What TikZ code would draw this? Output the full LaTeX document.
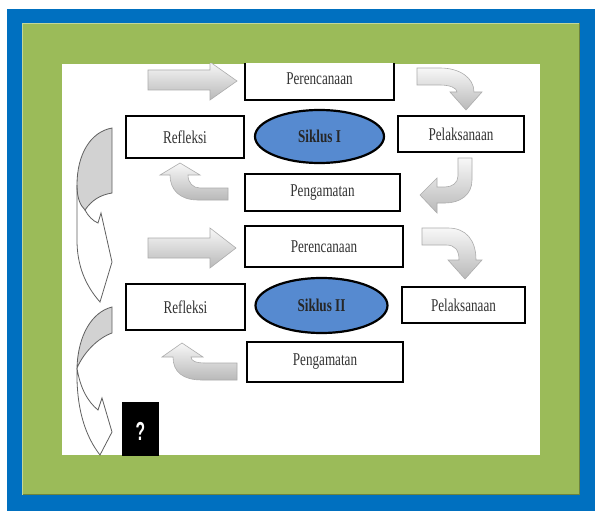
\documentclass[tikz,border=0pt]{standalone}
\usepackage{fontspec}
\newfontfamily\condserif[FakeStretch=0.73]{Liberation Serif}
\newfontfamily\qfont[FakeStretch=0.6]{Liberation Sans}
\usetikzlibrary{shapes.geometric}
\definecolor{frameblue}{RGB}{0,112,192}
\definecolor{framegreen}{RGB}{155,187,89}
\definecolor{ellblue}{RGB}{86,138,208}
\tikzset{
  stagebox/.style={draw=black, line width=2.4pt, fill=white, inner sep=0pt,
    font=\condserif\fontsize{18}{20}\selectfont, text=black!80},
  cyclebox/.style={ellipse, draw=black, line width=2.2pt, fill=ellblue, inner sep=0pt,
    font=\condserif\bfseries\fontsize{18}{20}\selectfont, text=black!85},
  grayarrow/.style={draw=gray!65, line width=0.6pt, top color=gray!6, bottom color=gray!55},
  backband/.style={draw=gray!75!black, line width=0.8pt, fill=gray!35},
  frontband/.style={draw=gray!75!black, line width=0.8pt}
}
\begin{document}
\begin{tikzpicture}[x=1pt,y=-1pt]
\useasboundingbox (0,0) rectangle (595,511);
% frame
\fill[white] (0,0) rectangle (595,511);
\fill[frameblue] (7,9) rectangle (595,511);
\fill[framegreen] (22,23) rectangle (580,495);
\draw[framegreen!60!white, line width=1pt] (22.5,494.5) -- (22.5,23.5) -- (579.5,23.5);
\draw[framegreen!70!black, line width=1pt] (579.5,23.5) -- (579.5,494.5) -- (22.5,494.5);
\fill[white] (62,64) rectangle (540,455);
\begin{scope}
\clip (62,64) rectangle (540,455);
% nodes
\node[stagebox, minimum width=149pt, minimum height=42pt] (per1) at (319.5,79) {Perencanaan};
\node[stagebox, minimum width=118pt, minimum height=42pt] (ref1) at (185,137) {Refleksi};
\node[cyclebox, minimum width=129pt, minimum height=53pt] (sik1) at (319.5,136.5) {Siklus I};
\node[stagebox, minimum width=126pt, minimum height=36pt] (pel1) at (461,134) {Pelaksanaan};
\node[stagebox, minimum width=155pt, minimum height=37pt] (pen1) at (322.5,192.5) {Pengamatan};
\node[stagebox, minimum width=158pt, minimum height=41pt] (per2) at (324,246.5) {Perencanaan};
\node[stagebox, minimum width=119pt, minimum height=46pt] (ref2) at (185.5,307) {Refleksi};
\node[cyclebox, minimum width=132pt, minimum height=55pt] (sik2) at (321.5,305.5) {Siklus II};
\node[stagebox, minimum width=123pt, minimum height=36pt] (pel2) at (463.5,305) {Pelaksanaan};
\node[stagebox, minimum width=156pt, minimum height=40pt] (pen2) at (325,362) {Pengamatan};
\node[fill=black, text=white, inner sep=0pt, minimum width=37pt, minimum height=58pt,
  font=\qfont\bfseries\fontsize{26}{28}\selectfont] (next) at (140.5,431) {?};
% straight arrows
\path[grayarrow] (148,70) -- (210,70) -- (210,62) -- (237,81) -- (210,100) -- (210,90) -- (148,90) -- cycle;
\path[grayarrow] (148,238) -- (210,238) -- (210,228) -- (236,248) -- (210,268) -- (210,258) -- (148,258) -- cycle;
% curved arrow Perencanaan -> Pelaksanaan (I)
\path[grayarrow] (417,68) -- (440,68) .. controls (460,68) and (474,78) .. (474,92) -- (482,92) -- (466,110) -- (450,92) -- (457,92) .. controls (457,88) and (450,85) .. (440,85) -- (417,85) -- cycle;
% curved arrow Pelaksanaan -> Pengamatan (I)
\path[grayarrow] (458,158) -- (472,158) -- (472,180) .. controls (472,195) and (460,203) .. (445,203) -- (437,203) -- (437,213) -- (420,195) -- (437,178) -- (437,187) -- (445,187) .. controls (452,187) and (458,183) .. (458,176) -- cycle;
% curved arrow Pengamatan -> Refleksi (I)
\path[grayarrow] (228,188) -- (200,188) .. controls (193,188) and (188,183) .. (188,175) -- (200,175) -- (180,163) -- (160,175) -- (170,175) .. controls (170,190) and (180,200) .. (198,200) -- (228,200) -- cycle;
% curved arrow Perencanaan -> Pelaksanaan (II)
\path[grayarrow] (422,228) -- (448,228) .. controls (466,228) and (476,240) .. (476,260) -- (482,260) -- (465,279) -- (448,260) -- (459,260) .. controls (459,250) and (455,245) .. (446,245) -- (422,245) -- cycle;
% curved arrow Pengamatan -> Refleksi (II)
\path[grayarrow] (237,363) -- (205,363) .. controls (196,363) and (191,361) .. (191,357) -- (203,357) -- (182,343) -- (162,357) -- (173,357) .. controls (173,372) and (183,380) .. (202,380) -- (237,380) -- cycle;
% left curved arrows (cycle I -> cycle II, cycle II -> ?)
\path[backband] (112,128) .. controls (90,132) and (77,155) .. (77,185) .. controls (77,198) and (80,205) .. (85,210) .. controls (92,200) and (100,195) .. (112,193) -- cycle;
\path[frontband] (85,210) .. controls (88,216) and (93,221) .. (98,223) -- (101,213) -- (112,262) -- (100,302) .. controls (85,285) and (77,265) .. (77,240) -- (77,185);
\path[backband] (112,307) .. controls (92,312) and (78,335) .. (77,368) .. controls (84,352) and (98,338) .. (112,333) -- cycle;
\path[frontband] (77,368) .. controls (80,388) and (88,402) .. (98,410) -- (102,398) -- (112,432) -- (100,455) .. controls (86,437) and (76,410) .. (77,368);
\end{scope}
\end{tikzpicture}
\end{document}
